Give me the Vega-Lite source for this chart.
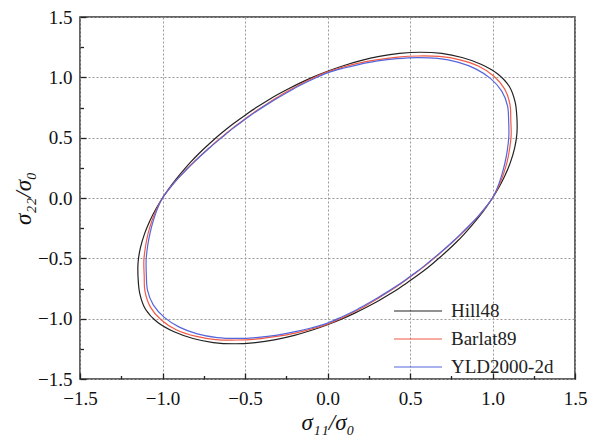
{
  "$schema": "https://vega.github.io/schema/vega-lite/v6.json",
  "width": 495,
  "height": 362,
  "autosize": "none",
  "padding": {"left": 80, "top": 17, "right": 23, "bottom": 62},
  "background": "white",
  "config": {
    "view": {"stroke": "#333", "strokeWidth": 1.5},
    "font": "Liberation Serif"
  },
  "data": {
    "values": [
      {"m":"Hill48","i":0,"x":1.0,"y":0.0},
      {"m":"Hill48","i":1,"x":1.04,"y":0.091},
      {"m":"Hill48","i":2,"x":1.077,"y":0.19},
      {"m":"Hill48","i":3,"x":1.109,"y":0.297},
      {"m":"Hill48","i":4,"x":1.134,"y":0.413},
      {"m":"Hill48","i":5,"x":1.148,"y":0.535},
      {"m":"Hill48","i":6,"x":1.148,"y":0.663},
      {"m":"Hill48","i":7,"x":1.137,"y":0.796},
      {"m":"Hill48","i":8,"x":1.102,"y":0.924},
      {"m":"Hill48","i":9,"x":1.03,"y":1.03},
      {"m":"Hill48","i":10,"x":0.93,"y":1.109},
      {"m":"Hill48","i":11,"x":0.815,"y":1.164},
      {"m":"Hill48","i":12,"x":0.692,"y":1.198},
      {"m":"Hill48","i":13,"x":0.563,"y":1.208},
      {"m":"Hill48","i":14,"x":0.436,"y":1.198},
      {"m":"Hill48","i":15,"x":0.314,"y":1.173},
      {"m":"Hill48","i":16,"x":0.201,"y":1.138},
      {"m":"Hill48","i":17,"x":0.096,"y":1.096},
      {"m":"Hill48","i":18,"x":0.0,"y":1.05},
      {"m":"Hill48","i":19,"x":-0.088,"y":1.002},
      {"m":"Hill48","i":20,"x":-0.168,"y":0.952},
      {"m":"Hill48","i":21,"x":-0.242,"y":0.901},
      {"m":"Hill48","i":22,"x":-0.31,"y":0.851},
      {"m":"Hill48","i":23,"x":-0.373,"y":0.8},
      {"m":"Hill48","i":24,"x":-0.432,"y":0.749},
      {"m":"Hill48","i":25,"x":-0.488,"y":0.697},
      {"m":"Hill48","i":26,"x":-0.542,"y":0.645},
      {"m":"Hill48","i":27,"x":-0.593,"y":0.593},
      {"m":"Hill48","i":28,"x":-0.642,"y":0.538},
      {"m":"Hill48","i":29,"x":-0.689,"y":0.483},
      {"m":"Hill48","i":30,"x":-0.736,"y":0.425},
      {"m":"Hill48","i":31,"x":-0.782,"y":0.365},
      {"m":"Hill48","i":32,"x":-0.827,"y":0.301},
      {"m":"Hill48","i":33,"x":-0.871,"y":0.233},
      {"m":"Hill48","i":34,"x":-0.915,"y":0.161},
      {"m":"Hill48","i":35,"x":-0.958,"y":0.084},
      {"m":"Hill48","i":36,"x":-1.0,"y":0.0},
      {"m":"Hill48","i":37,"x":-1.04,"y":-0.091},
      {"m":"Hill48","i":38,"x":-1.077,"y":-0.19},
      {"m":"Hill48","i":39,"x":-1.109,"y":-0.297},
      {"m":"Hill48","i":40,"x":-1.134,"y":-0.413},
      {"m":"Hill48","i":41,"x":-1.148,"y":-0.535},
      {"m":"Hill48","i":42,"x":-1.148,"y":-0.663},
      {"m":"Hill48","i":43,"x":-1.137,"y":-0.796},
      {"m":"Hill48","i":44,"x":-1.102,"y":-0.924},
      {"m":"Hill48","i":45,"x":-1.03,"y":-1.03},
      {"m":"Hill48","i":46,"x":-0.93,"y":-1.109},
      {"m":"Hill48","i":47,"x":-0.815,"y":-1.164},
      {"m":"Hill48","i":48,"x":-0.692,"y":-1.198},
      {"m":"Hill48","i":49,"x":-0.563,"y":-1.208},
      {"m":"Hill48","i":50,"x":-0.436,"y":-1.198},
      {"m":"Hill48","i":51,"x":-0.314,"y":-1.173},
      {"m":"Hill48","i":52,"x":-0.201,"y":-1.138},
      {"m":"Hill48","i":53,"x":-0.096,"y":-1.096},
      {"m":"Hill48","i":54,"x":0.0,"y":-1.05},
      {"m":"Hill48","i":55,"x":0.088,"y":-1.002},
      {"m":"Hill48","i":56,"x":0.168,"y":-0.952},
      {"m":"Hill48","i":57,"x":0.242,"y":-0.901},
      {"m":"Hill48","i":58,"x":0.31,"y":-0.851},
      {"m":"Hill48","i":59,"x":0.373,"y":-0.8},
      {"m":"Hill48","i":60,"x":0.432,"y":-0.749},
      {"m":"Hill48","i":61,"x":0.488,"y":-0.697},
      {"m":"Hill48","i":62,"x":0.542,"y":-0.645},
      {"m":"Hill48","i":63,"x":0.593,"y":-0.593},
      {"m":"Hill48","i":64,"x":0.642,"y":-0.538},
      {"m":"Hill48","i":65,"x":0.689,"y":-0.483},
      {"m":"Hill48","i":66,"x":0.736,"y":-0.425},
      {"m":"Hill48","i":67,"x":0.782,"y":-0.365},
      {"m":"Hill48","i":68,"x":0.827,"y":-0.301},
      {"m":"Hill48","i":69,"x":0.871,"y":-0.233},
      {"m":"Hill48","i":70,"x":0.915,"y":-0.161},
      {"m":"Hill48","i":71,"x":0.958,"y":-0.084},

      {"m":"Barlat89","i":0,"x":1.0,"y":0.0},
      {"m":"Barlat89","i":1,"x":1.035,"y":0.091},
      {"m":"Barlat89","i":2,"x":1.064,"y":0.188},
      {"m":"Barlat89","i":3,"x":1.087,"y":0.291},
      {"m":"Barlat89","i":4,"x":1.103,"y":0.402},
      {"m":"Barlat89","i":5,"x":1.113,"y":0.519},
      {"m":"Barlat89","i":6,"x":1.111,"y":0.641},
      {"m":"Barlat89","i":7,"x":1.106,"y":0.774},
      {"m":"Barlat89","i":8,"x":1.074,"y":0.902},
      {"m":"Barlat89","i":9,"x":1.009,"y":1.009},
      {"m":"Barlat89","i":10,"x":0.917,"y":1.092},
      {"m":"Barlat89","i":11,"x":0.802,"y":1.145},
      {"m":"Barlat89","i":12,"x":0.677,"y":1.173},
      {"m":"Barlat89","i":13,"x":0.549,"y":1.177},
      {"m":"Barlat89","i":14,"x":0.425,"y":1.168},
      {"m":"Barlat89","i":15,"x":0.307,"y":1.147},
      {"m":"Barlat89","i":16,"x":0.197,"y":1.12},
      {"m":"Barlat89","i":17,"x":0.095,"y":1.085},
      {"m":"Barlat89","i":18,"x":0.0,"y":1.045},
      {"m":"Barlat89","i":19,"x":-0.087,"y":0.994},
      {"m":"Barlat89","i":20,"x":-0.166,"y":0.941},
      {"m":"Barlat89","i":21,"x":-0.238,"y":0.888},
      {"m":"Barlat89","i":22,"x":-0.304,"y":0.834},
      {"m":"Barlat89","i":23,"x":-0.365,"y":0.782},
      {"m":"Barlat89","i":24,"x":-0.422,"y":0.731},
      {"m":"Barlat89","i":25,"x":-0.476,"y":0.679},
      {"m":"Barlat89","i":26,"x":-0.527,"y":0.628},
      {"m":"Barlat89","i":27,"x":-0.577,"y":0.577},
      {"m":"Barlat89","i":28,"x":-0.624,"y":0.524},
      {"m":"Barlat89","i":29,"x":-0.672,"y":0.47},
      {"m":"Barlat89","i":30,"x":-0.718,"y":0.414},
      {"m":"Barlat89","i":31,"x":-0.765,"y":0.357},
      {"m":"Barlat89","i":32,"x":-0.812,"y":0.296},
      {"m":"Barlat89","i":33,"x":-0.86,"y":0.23},
      {"m":"Barlat89","i":34,"x":-0.908,"y":0.16},
      {"m":"Barlat89","i":35,"x":-0.955,"y":0.084},
      {"m":"Barlat89","i":36,"x":-1.0,"y":0.0},
      {"m":"Barlat89","i":37,"x":-1.035,"y":-0.091},
      {"m":"Barlat89","i":38,"x":-1.064,"y":-0.188},
      {"m":"Barlat89","i":39,"x":-1.087,"y":-0.291},
      {"m":"Barlat89","i":40,"x":-1.103,"y":-0.402},
      {"m":"Barlat89","i":41,"x":-1.113,"y":-0.519},
      {"m":"Barlat89","i":42,"x":-1.111,"y":-0.641},
      {"m":"Barlat89","i":43,"x":-1.106,"y":-0.774},
      {"m":"Barlat89","i":44,"x":-1.074,"y":-0.902},
      {"m":"Barlat89","i":45,"x":-1.009,"y":-1.009},
      {"m":"Barlat89","i":46,"x":-0.917,"y":-1.092},
      {"m":"Barlat89","i":47,"x":-0.802,"y":-1.145},
      {"m":"Barlat89","i":48,"x":-0.677,"y":-1.173},
      {"m":"Barlat89","i":49,"x":-0.549,"y":-1.177},
      {"m":"Barlat89","i":50,"x":-0.425,"y":-1.168},
      {"m":"Barlat89","i":51,"x":-0.307,"y":-1.147},
      {"m":"Barlat89","i":52,"x":-0.197,"y":-1.12},
      {"m":"Barlat89","i":53,"x":-0.095,"y":-1.085},
      {"m":"Barlat89","i":54,"x":0.0,"y":-1.045},
      {"m":"Barlat89","i":55,"x":0.087,"y":-0.994},
      {"m":"Barlat89","i":56,"x":0.166,"y":-0.941},
      {"m":"Barlat89","i":57,"x":0.238,"y":-0.888},
      {"m":"Barlat89","i":58,"x":0.304,"y":-0.834},
      {"m":"Barlat89","i":59,"x":0.365,"y":-0.782},
      {"m":"Barlat89","i":60,"x":0.422,"y":-0.731},
      {"m":"Barlat89","i":61,"x":0.476,"y":-0.679},
      {"m":"Barlat89","i":62,"x":0.527,"y":-0.628},
      {"m":"Barlat89","i":63,"x":0.577,"y":-0.577},
      {"m":"Barlat89","i":64,"x":0.624,"y":-0.524},
      {"m":"Barlat89","i":65,"x":0.672,"y":-0.47},
      {"m":"Barlat89","i":66,"x":0.718,"y":-0.414},
      {"m":"Barlat89","i":67,"x":0.765,"y":-0.357},
      {"m":"Barlat89","i":68,"x":0.812,"y":-0.296},
      {"m":"Barlat89","i":69,"x":0.86,"y":-0.23},
      {"m":"Barlat89","i":70,"x":0.908,"y":-0.16},
      {"m":"Barlat89","i":71,"x":0.955,"y":-0.084},

      {"m":"YLD2000-2d","i":0,"x":1.0,"y":0.0},
      {"m":"YLD2000-2d","i":1,"x":1.031,"y":0.09},
      {"m":"YLD2000-2d","i":2,"x":1.055,"y":0.186},
      {"m":"YLD2000-2d","i":3,"x":1.075,"y":0.288},
      {"m":"YLD2000-2d","i":4,"x":1.09,"y":0.397},
      {"m":"YLD2000-2d","i":5,"x":1.099,"y":0.512},
      {"m":"YLD2000-2d","i":6,"x":1.098,"y":0.634},
      {"m":"YLD2000-2d","i":7,"x":1.091,"y":0.764},
      {"m":"YLD2000-2d","i":8,"x":1.056,"y":0.886},
      {"m":"YLD2000-2d","i":9,"x":0.989,"y":0.989},
      {"m":"YLD2000-2d","i":10,"x":0.898,"y":1.07},
      {"m":"YLD2000-2d","i":11,"x":0.789,"y":1.126},
      {"m":"YLD2000-2d","i":12,"x":0.668,"y":1.157},
      {"m":"YLD2000-2d","i":13,"x":0.543,"y":1.164},
      {"m":"YLD2000-2d","i":14,"x":0.42,"y":1.155},
      {"m":"YLD2000-2d","i":15,"x":0.304,"y":1.136},
      {"m":"YLD2000-2d","i":16,"x":0.195,"y":1.108},
      {"m":"YLD2000-2d","i":17,"x":0.094,"y":1.075},
      {"m":"YLD2000-2d","i":18,"x":0.0,"y":1.037},
      {"m":"YLD2000-2d","i":19,"x":-0.086,"y":0.986},
      {"m":"YLD2000-2d","i":20,"x":-0.165,"y":0.934},
      {"m":"YLD2000-2d","i":21,"x":-0.236,"y":0.881},
      {"m":"YLD2000-2d","i":22,"x":-0.302,"y":0.829},
      {"m":"YLD2000-2d","i":23,"x":-0.363,"y":0.778},
      {"m":"YLD2000-2d","i":24,"x":-0.42,"y":0.728},
      {"m":"YLD2000-2d","i":25,"x":-0.474,"y":0.677},
      {"m":"YLD2000-2d","i":26,"x":-0.525,"y":0.626},
      {"m":"YLD2000-2d","i":27,"x":-0.575,"y":0.575},
      {"m":"YLD2000-2d","i":28,"x":-0.622,"y":0.522},
      {"m":"YLD2000-2d","i":29,"x":-0.669,"y":0.469},
      {"m":"YLD2000-2d","i":30,"x":-0.716,"y":0.414},
      {"m":"YLD2000-2d","i":31,"x":-0.763,"y":0.356},
      {"m":"YLD2000-2d","i":32,"x":-0.81,"y":0.295},
      {"m":"YLD2000-2d","i":33,"x":-0.858,"y":0.23},
      {"m":"YLD2000-2d","i":34,"x":-0.907,"y":0.16},
      {"m":"YLD2000-2d","i":35,"x":-0.954,"y":0.083},
      {"m":"YLD2000-2d","i":36,"x":-1.0,"y":0.0},
      {"m":"YLD2000-2d","i":37,"x":-1.031,"y":-0.09},
      {"m":"YLD2000-2d","i":38,"x":-1.055,"y":-0.186},
      {"m":"YLD2000-2d","i":39,"x":-1.075,"y":-0.288},
      {"m":"YLD2000-2d","i":40,"x":-1.09,"y":-0.397},
      {"m":"YLD2000-2d","i":41,"x":-1.099,"y":-0.512},
      {"m":"YLD2000-2d","i":42,"x":-1.098,"y":-0.634},
      {"m":"YLD2000-2d","i":43,"x":-1.091,"y":-0.764},
      {"m":"YLD2000-2d","i":44,"x":-1.056,"y":-0.886},
      {"m":"YLD2000-2d","i":45,"x":-0.989,"y":-0.989},
      {"m":"YLD2000-2d","i":46,"x":-0.898,"y":-1.07},
      {"m":"YLD2000-2d","i":47,"x":-0.789,"y":-1.126},
      {"m":"YLD2000-2d","i":48,"x":-0.668,"y":-1.157},
      {"m":"YLD2000-2d","i":49,"x":-0.543,"y":-1.164},
      {"m":"YLD2000-2d","i":50,"x":-0.42,"y":-1.155},
      {"m":"YLD2000-2d","i":51,"x":-0.304,"y":-1.136},
      {"m":"YLD2000-2d","i":52,"x":-0.195,"y":-1.108},
      {"m":"YLD2000-2d","i":53,"x":-0.094,"y":-1.075},
      {"m":"YLD2000-2d","i":54,"x":0.0,"y":-1.037},
      {"m":"YLD2000-2d","i":55,"x":0.086,"y":-0.986},
      {"m":"YLD2000-2d","i":56,"x":0.165,"y":-0.934},
      {"m":"YLD2000-2d","i":57,"x":0.236,"y":-0.881},
      {"m":"YLD2000-2d","i":58,"x":0.302,"y":-0.829},
      {"m":"YLD2000-2d","i":59,"x":0.363,"y":-0.778},
      {"m":"YLD2000-2d","i":60,"x":0.42,"y":-0.728},
      {"m":"YLD2000-2d","i":61,"x":0.474,"y":-0.677},
      {"m":"YLD2000-2d","i":62,"x":0.525,"y":-0.626},
      {"m":"YLD2000-2d","i":63,"x":0.575,"y":-0.575},
      {"m":"YLD2000-2d","i":64,"x":0.622,"y":-0.522},
      {"m":"YLD2000-2d","i":65,"x":0.669,"y":-0.469},
      {"m":"YLD2000-2d","i":66,"x":0.716,"y":-0.414},
      {"m":"YLD2000-2d","i":67,"x":0.763,"y":-0.356},
      {"m":"YLD2000-2d","i":68,"x":0.81,"y":-0.295},
      {"m":"YLD2000-2d","i":69,"x":0.858,"y":-0.23},
      {"m":"YLD2000-2d","i":70,"x":0.907,"y":-0.16},
      {"m":"YLD2000-2d","i":71,"x":0.954,"y":-0.083}
    ]
  },
  "layer": [
    {
      "mark": {"type": "line", "interpolate": "cardinal-closed", "strokeWidth": 1.2},
      "encoding": {
        "x": {
          "field": "x", "type": "quantitative",
          "scale": {"domain": [-1.5, 1.5], "nice": false, "zero": false},
          "axis": {
            "orient": "bottom",
            "values": [-1.5, -1, -0.5, 0, 0.5, 1, 1.5],
            "format": ".1f",
            "title": "σ₁₁/σ₀",
            "titleFont": "Liberation Serif",
            "titleFontStyle": "italic",
            "titleFontWeight": "normal",
            "titleFontSize": 23,
            "titleColor": "#111",
            "titlePadding": 3,
            "grid": true,
            "gridDash": [2, 2],
            "gridColor": "#999",
            "gridWidth": 1,
            "domain": false,
            "tickSize": -6,
            "tickColor": "#222",
            "tickWidth": 1.3,
            "labelFont": "Liberation Serif",
            "labelFontSize": 19,
            "labelColor": "#111",
            "labelPadding": 16,
            "labelFlush": false
          }
        },
        "y": {
          "field": "y", "type": "quantitative",
          "scale": {"domain": [-1.5, 1.5], "nice": false, "zero": false},
          "axis": {
            "orient": "left",
            "values": [-1.5, -1, -0.5, 0, 0.5, 1, 1.5],
            "format": ".1f",
            "title": "σ₂₂/σ₀",
            "titleFont": "Liberation Serif",
            "titleFontStyle": "italic",
            "titleFontWeight": "normal",
            "titleFontSize": 23,
            "titleColor": "#111",
            "titlePadding": 2,
            "grid": true,
            "gridDash": [2, 2],
            "gridColor": "#999",
            "gridWidth": 1,
            "domain": false,
            "tickSize": -6,
            "tickColor": "#222",
            "tickWidth": 1.3,
            "labelFont": "Liberation Serif",
            "labelFontSize": 19,
            "labelColor": "#111",
            "labelPadding": 14,
            "labelFlush": false
          }
        },
        "color": {
          "field": "m", "type": "nominal",
          "scale": {"domain": ["Hill48", "Barlat89", "YLD2000-2d"], "range": ["#222222", "#f25a45", "#5566dd"]},
          "legend": {
            "orient": "none",
            "legendX": 313,
            "legendY": 281,
            "title": null,
            "padding": 0,
            "symbolType": "M-1,0H3",
            "symbolSize": 576,
            "symbolStrokeWidth": 1.2,
            "symbolFillColor": "transparent",
            "labelFont": "Liberation Serif",
            "labelFontSize": 19,
            "labelColor": "#222",
            "labelOffset": 32,
            "rowPadding": 5
          }
        },
        "order": {"field": "i", "type": "quantitative"}
      }
    },
    {
      "mark": {"type": "point", "opacity": 0},
      "encoding": {
        "x": {
          "field": "x", "type": "quantitative",
          "scale": {"domain": [-1.5, 1.5], "nice": false, "zero": false},
          "axis": {
            "orient": "bottom",
            "values": [-1.25, -0.75, -0.25, 0.25, 0.75, 1.25],
            "title": null, "labels": false, "grid": false, "domain": false,
            "tickSize": -3.5, "tickColor": "#222", "tickWidth": 1.3
          }
        },
        "y": {
          "field": "y", "type": "quantitative",
          "scale": {"domain": [-1.5, 1.5], "nice": false, "zero": false},
          "axis": {
            "orient": "left",
            "values": [-1.25, -0.75, -0.25, 0.25, 0.75, 1.25],
            "title": null, "labels": false, "grid": false, "domain": false,
            "tickSize": -3.5, "tickColor": "#222", "tickWidth": 1.3
          }
        }
      }
    }
  ],
  "resolve": {"axis": {"x": "independent", "y": "independent"}}
}
